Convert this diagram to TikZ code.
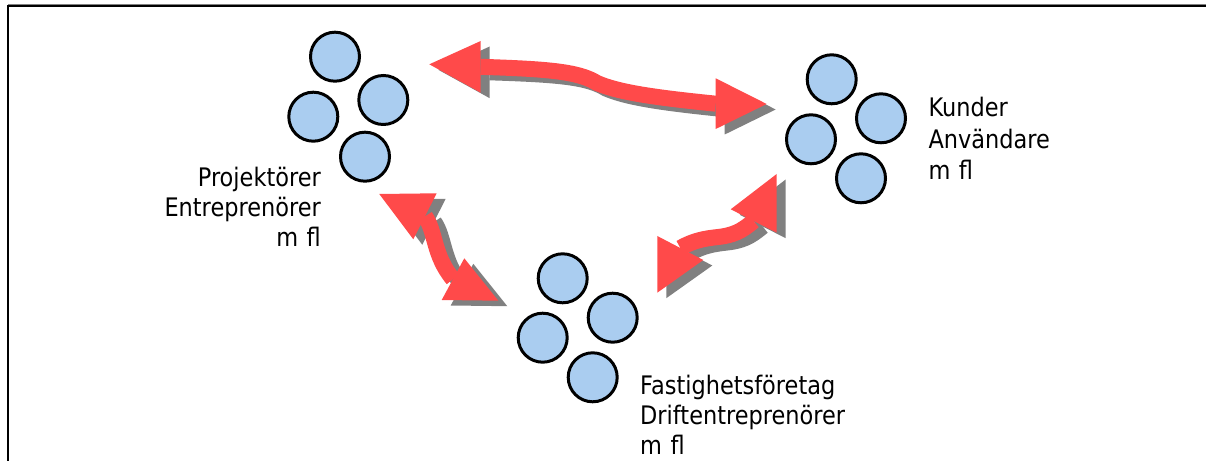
\documentclass[tikz,border=0pt]{standalone}
\usepackage{fontspec}
\setmainfont{DejaVu Sans}[FakeStretch=0.88]
\definecolor{arrred}{RGB}{255,74,74}
\definecolor{arrshadow}{RGB}{128,128,128}
\definecolor{circfill}{RGB}{170,205,240}
\tikzset{
  person/.style={circle, draw=black, line width=3pt, fill=circfill, minimum size=49bp, inner sep=0pt},
  shaftline/.style={line width=16bp},
  lbl/.style={inner sep=0pt, font=\fontsize{25.6}{30.1}\selectfont},
  framepen/.style={line width=2.2pt, draw=black},
}
\newcommand\dblarrow[3]{%
  \begin{scope}[transform canvas={shift={(9,5.5)}}]
    \draw[shaftline, draw=arrshadow] #1;
    \fill[arrshadow] #2;
    \fill[arrshadow] #3;
  \end{scope}
  \draw[shaftline, draw=arrred] #1;
  \fill[arrred] #2;
  \fill[arrred] #3;
}
\begin{document}
\begin{tikzpicture}[x=1bp,y=-1bp]
\useasboundingbox (0,0) rectangle (1206,461);
\fill[white] (-20,-20) rectangle (1230,480);

% arrow 1 (top)
\coordinate (a1lt) at (429.3,64.3);
\coordinate (a1lb1) at (480.7,41);
\coordinate (a1lb2) at (480.7,92.7);
\coordinate (a1lm) at (480.7,66.8);
\coordinate (a1rt) at (766.7,104);
\coordinate (a1rb1) at (715.7,78.3);
\coordinate (a1rb2) at (715.7,129);
\coordinate (a1rm) at (715.7,103.7);
\dblarrow{(a1lm) .. controls (545,69) and (578,71) .. (597,83) .. controls (620,93) and (660,98) .. (a1rm)}
  {(a1lt) -- (a1lb1) -- (a1lb2) -- cycle}
  {(a1rt) -- (a1rb1) -- (a1rb2) -- cycle}

% arrow 2 (left)
\coordinate (a2ut) at (379.3,194);
\coordinate (a2ub1) at (436.7,193.3);
\coordinate (a2ub2) at (413.3,239.3);
\coordinate (a2um) at (425,216.3);
\coordinate (a2dt) at (498.3,300.7);
\coordinate (a2db1) at (464.3,258.3);
\coordinate (a2db2) at (441.7,300);
\coordinate (a2dm) at (453,279.2);
\dblarrow{(a2um) .. controls (436,232) and (433,255) .. (a2dm)}
  {(a2ut) -- (a2ub1) -- (a2ub2) -- cycle}
  {(a2dt) -- (a2db1) -- (a2db2) -- cycle}

% arrow 3 (right)
\coordinate (a3lt) at (657.3,292.7);
\coordinate (a3lb1) at (657.3,236);
\coordinate (a3lb2) at (703.3,260);
\coordinate (a3lm) at (680.3,248);
\coordinate (a3ut) at (776.7,174);
\coordinate (a3ub1) at (730.7,209.3);
\coordinate (a3ub2) at (776.7,232.7);
\coordinate (a3um) at (753.7,221);
\dblarrow{(a3lm) .. controls (698,238) and (712,238) .. (722,236.5) .. controls (738,234) and (745,228) .. (a3um)}
  {(a3lt) -- (a3lb1) -- (a3lb2) -- cycle}
  {(a3ut) -- (a3ub1) -- (a3ub2) -- cycle}

% group 1
\node[person] (g1a) at (335,56.7) {};
\node[person] (g1b) at (383.3,100) {};
\node[person] (g1c) at (313.3,116.7) {};
\node[person] (g1d) at (365,156.7) {};
% group 2
\node[person] (g2a) at (831.7,79.3) {};
\node[person] (g2b) at (881,118.3) {};
\node[person] (g2c) at (811,139.3) {};
\node[person] (g2d) at (861,178.3) {};
% group 3
\node[person] (g3a) at (562.7,278.3) {};
\node[person] (g3b) at (612.7,317.7) {};
\node[person] (g3c) at (542.7,337.7) {};
\node[person] (g3d) at (592.7,377.3) {};

% labels
\node[lbl, text width=220bp, align=right, anchor=base east] (t1) at (321,186.7) {Projektörer\\Entreprenörer\\m fl};
\node[lbl, font=\fontsize{25.6}{31.6}\selectfont, text width=220bp, align=left, anchor=base west] (t2) at (928.3,116.7) {Kunder\\Användare\\m fl};
\node[lbl, text width=260bp, align=left, anchor=base west] (t3) at (640,395) {Fastighetsföretag\\Driftentreprenörer\\m fl};

% cover right margin, then frame on top
\fill[white] (1190,-20) rectangle (1230,480);
\coordinate (fbl) at (7.8,475);
\coordinate (ftl) at (7.8,6);
\coordinate (ftr) at (1225,6);
\draw[arrshadow, line width=1pt] (7.8,4.7) -- (1225,4.7);
\draw[framepen] (fbl) -- (ftl) -- (ftr);
\end{tikzpicture}
\end{document}
